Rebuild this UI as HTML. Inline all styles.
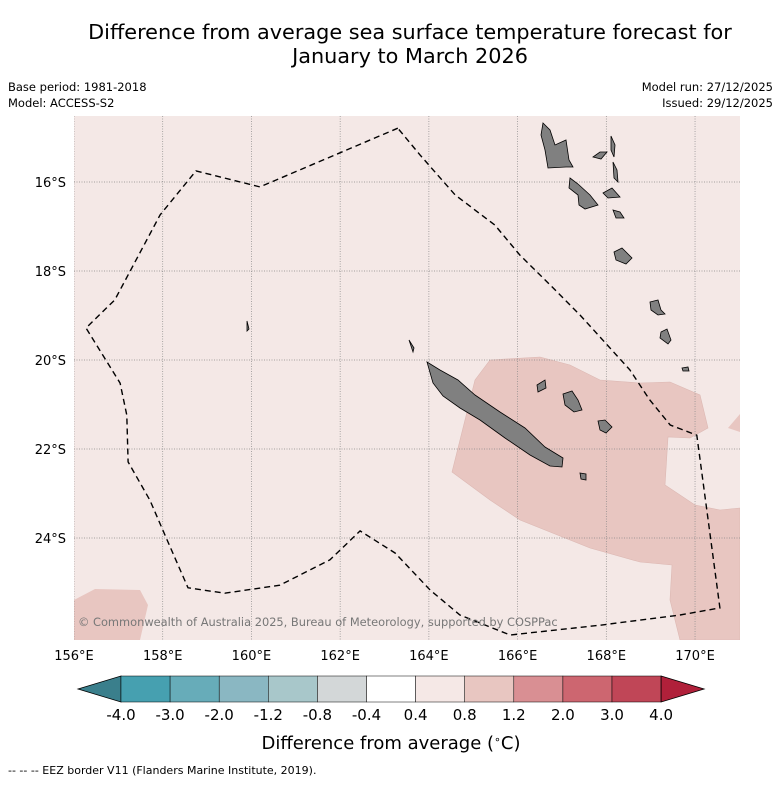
<!DOCTYPE html>
<html><head><meta charset="utf-8"><style>
body{margin:0;background:#fff;font-family:"Liberation Sans","DejaVu Sans",sans-serif}
svg text{font-family:"DejaVu Sans","Liberation Sans",sans-serif}
</style></head><body>
<svg id="c" width="781" height="781" xmlns="http://www.w3.org/2000/svg">
<rect width="781" height="781" fill="#fff"/>
<text x="410" y="39" text-anchor="middle" font-size="20.8" fill="#000">Difference from average sea surface temperature forecast for</text>
<text x="410" y="63" text-anchor="middle" font-size="20.8" fill="#000">January to March 2026</text>
<text x="8" y="91" font-size="11.5">Base period: 1981-2018</text>
<text x="8" y="107" font-size="11.5">Model: ACCESS-S2</text>
<text x="773" y="91" font-size="11.5" text-anchor="end">Model run: 27/12/2025</text>
<text x="773" y="107" font-size="11.5" text-anchor="end">Issued: 29/12/2025</text>
<defs><clipPath id="mc"><rect x="74" y="116" width="666" height="524"/></clipPath></defs>
<g clip-path="url(#mc)">
<rect x="74" y="116" width="666" height="524" fill="#f4e8e6"/>
<path d="M490,360 L540,357 570,365 600,380 640,383 670,382 700,395 708,428 690,438 668,437 665,485 695,505 720,510 740,508 740,640 680,640 670,600 672,565 640,562 590,548 520,520 490,500 452,472 465,420 475,380 Z" fill="#e8c6c1" stroke="#dcb8b3" stroke-width="0.6"/>
<path d="M728,428 L740,414 740,432 Z" fill="#e8c6c1"/>
<path d="M74,600 L95,589 140,590 148,605 140,640 74,640 Z" fill="#e8c6c1"/>
<g id="grid"></g>
<g fill="#808080" stroke="#000" stroke-width="0.8">
<path d="M427,362 L440,370 458,380 475,395 500,412 525,428 545,447 563,458 562,467 550,466 530,455 505,438 480,420 460,408 443,396 433,383 Z"/>
<path d="M543,123 L550,130 555,145 566,140 569,160 573,167 566,167 548,168 545,150 541,135 Z"/>
<path d="M570,178 L578,184 590,195 598,205 585,209 579,205 578,195 569,188 Z"/>
<path d="M611,136 L615,145 614,157 611,150 Z M613,162 L617,170 618,182 614,178 Z M593,157 L600,152 607,152 601,159 Z M603,193 L612,188 620,197 608,198 Z M613,210 L620,212 624,218 616,218 Z M614,252 L622,248 632,258 626,264 616,260 Z"/>
<path d="M650,302 L658,300 661,310 665,314 658,315 651,310 Z M661,332 L667,329 671,340 668,344 660,338 Z M682,368 L688,367 689,371 683,371 Z"/>
<path d="M563,394 L572,391 578,400 582,410 574,412 565,405 Z M598,421 L605,420 612,427 606,433 600,430 Z M537,385 L545,380 546,388 538,392 Z M580,473 L586,474 586,480 581,479 Z M409,340 L414,348 413,352 Z M247,321 L249,329 247,331 Z"/>
</g>
<path id="eez" fill="none" stroke="#000" stroke-width="1.4" stroke-dasharray="6,4"/>
<text x="78" y="626" font-size="11.4" fill="#777">© Commonwealth of Australia 2025, Bureau of Meteorology, supported by COSPPac</text>
</g>
<g id="axes"></g>
<g id="cbar"></g>
<text x="391" y="749" text-anchor="middle" font-size="18">Difference from average (<tspan baseline-shift="super" font-size="11">∘</tspan>C)</text>
<text x="8" y="774" font-size="11">--  --  -- EEZ border V11 (Flanders Marine Institute, 2019).</text>
</svg>
<script>
const lonTicks=[156,158,160,162,164,166,168,170];
const latTicks=[16,18,20,22,24];
const eezLon=[163.30,160.19,158.75,157.94,156.92,156.27,157.04,157.19,157.22,157.71,158.05,158.57,159.40,160.64,161.77,162.45,163.24,164.03,164.70,165.83,167.86,169.66,170.56,170.04,169.44,168.98,168.53,167.41,166.73,166.05,165.49,164.59,163.80,163.30];
const eezLat=[-14.79,-16.11,-15.75,-16.74,-18.65,-19.28,-20.52,-21.24,-22.29,-23.15,-23.93,-25.12,-25.24,-25.06,-24.49,-23.84,-24.34,-25.17,-25.73,-26.18,-25.96,-25.73,-25.57,-21.69,-21.46,-20.90,-20.22,-18.99,-18.31,-17.64,-16.97,-16.29,-15.39,-14.79];
const cbarLabels=["-4.0","-3.0","-2.0","-1.2","-0.8","-0.4","0.4","0.8","1.2","2.0","3.0","4.0"];
const cbarColors=["#46a0b0","#67acb9","#8ab7c2","#a8c7ca","#d3d7d8","#ffffff","#f5e8e6","#e8c6c1","#d98f93","#cd6670","#c04657"];
const X=lon=>74+(lon-156)*44.36;
const Y=lat=>182+(-lat-16)*44.5;
const NS="http://www.w3.org/2000/svg";
function mk(t,a,p){const e=document.createElementNS(NS,t);for(const k in a)e.setAttribute(k,a[k]);p.appendChild(e);return e;}
const grid=document.getElementById('grid'),axes=document.getElementById('axes');
lonTicks.forEach(l=>{
 const ln=mk('line',{x1:X(l),x2:X(l),y1:116,y2:640,stroke:'#888','stroke-width':0.7,'stroke-dasharray':'1,1.5'},grid);
 
 
 const t=mk('text',{x:X(l),y:660,'text-anchor':'middle','font-size':13},axes);
 t.textContent=l+'°E';
 
 
});
latTicks.forEach(l=>{
 const ln=mk('line',{x1:74,x2:740,y1:Y(-l),y2:Y(-l),stroke:'#888','stroke-width':0.7,'stroke-dasharray':'1,1.5'},grid);
 
 
 const t=mk('text',{x:66,y:Y(-l)+5,'text-anchor':'end','font-size':13},axes);
 t.textContent=l+'°S';
 
 
});
document.getElementById('eez').setAttribute('d',eezLon.map((l,i)=>(i?'L':'M')+X(l).toFixed(1)+','+Y(eezLat[i]).toFixed(1)).join(' '));
const cb=document.getElementById('cbar');
const cx0=121,cw=49.1,cy=676,ch=26;
const lt=mk('path',{d:`M78,${cy+ch/2} L${cx0},${cy} L${cx0},${cy+ch} Z`,fill:'#3a7f8c',stroke:'#000','stroke-width':0.8},cb);


cbarColors.forEach((c,i)=>{
 const r=mk('rect',{x:cx0+i*cw,y:cy,width:cw,height:ch,fill:c,stroke:'#000','stroke-width':0.5},cb);
 
 
});
const xe=cx0+cbarColors.length*cw;
const rt=mk('path',{d:`M${xe},${cy} L${xe+43},${cy+ch/2} L${xe},${cy+ch} Z`,fill:'#b0203a',stroke:'#000','stroke-width':0.8},cb);


cbarLabels.forEach((s,i)=>{
 const t=mk('text',{x:cx0+i*cw,y:720,'text-anchor':'middle','font-size':15},cb);
 t.textContent=s;
 
 
});
</script>
</body></html>
